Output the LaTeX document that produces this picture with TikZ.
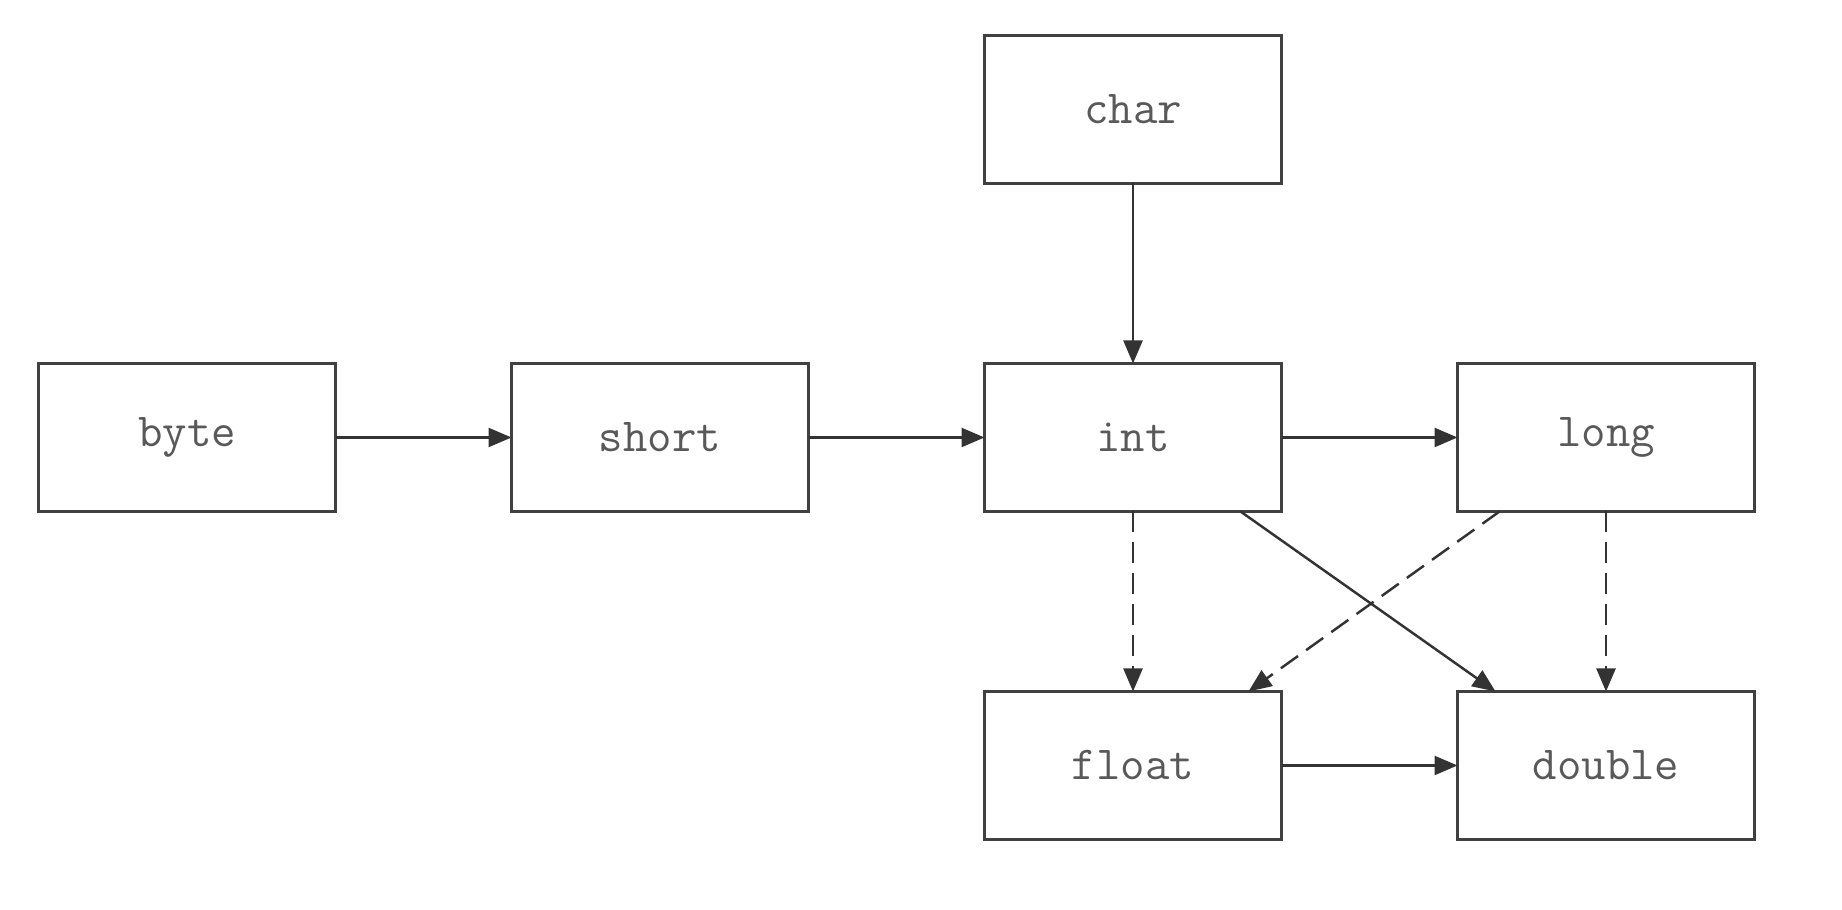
\documentclass[tikz,border=0pt]{standalone}
\usepackage{fontspec}
\usepackage{tikz}
\usetikzlibrary{positioning,arrows.meta}
\tikzset{>={Triangle[length=2.3mm,width=1.9mm]}}

\begin{document}
\begin{tikzpicture}[
node distance=1.8cm and 1.76cm,
typebox/.style={rectangle, align=center, draw=black!75, line width=0.7pt, text=black!65, font=\fontsize{13.5}{15}\ttfamily, minimum width=2.97cm, minimum height=1.48cm, inner sep=0pt, outer sep=0pt},
conv/.style={->, draw=black!80, line width=0.7pt},
]
\useasboundingbox (0,0) rectangle (18.42,9.10);
%Nodes
\node[typebox](byte) at (1.87,4.725){byte};
\node[typebox](short)[right= of byte]{short};
\node[typebox](int)[right= of short]{int};
\node[typebox](long)[right= of int]{long};
\node[typebox](char)[above= of int]{char};
\node[typebox](float)[below= of int]{float};
\node[typebox](double)[below= of long]{double};

%Lines
\draw[conv] (byte) -- (short);
\draw[conv] (short) -- (int);
\draw[conv] (int) -- (long);
\draw[conv] (char) -- (int);
\draw[conv] (float) -- (double);
\draw[conv, dash pattern=on 2.1mm off 1mm] (int) -- (float);
\draw[conv, dash pattern=on 2.1mm off 1mm] (long) -- (double);
\draw[conv] ([xshift=-0.41cm]int.south east) -- ([xshift=0.38cm]double.north west);
\draw[conv, dash pattern=on 2.1mm off 1mm] ([xshift=0.42cm]long.south west) -- ([xshift=-0.33cm]float.north east);
\end{tikzpicture}
\end{document}
